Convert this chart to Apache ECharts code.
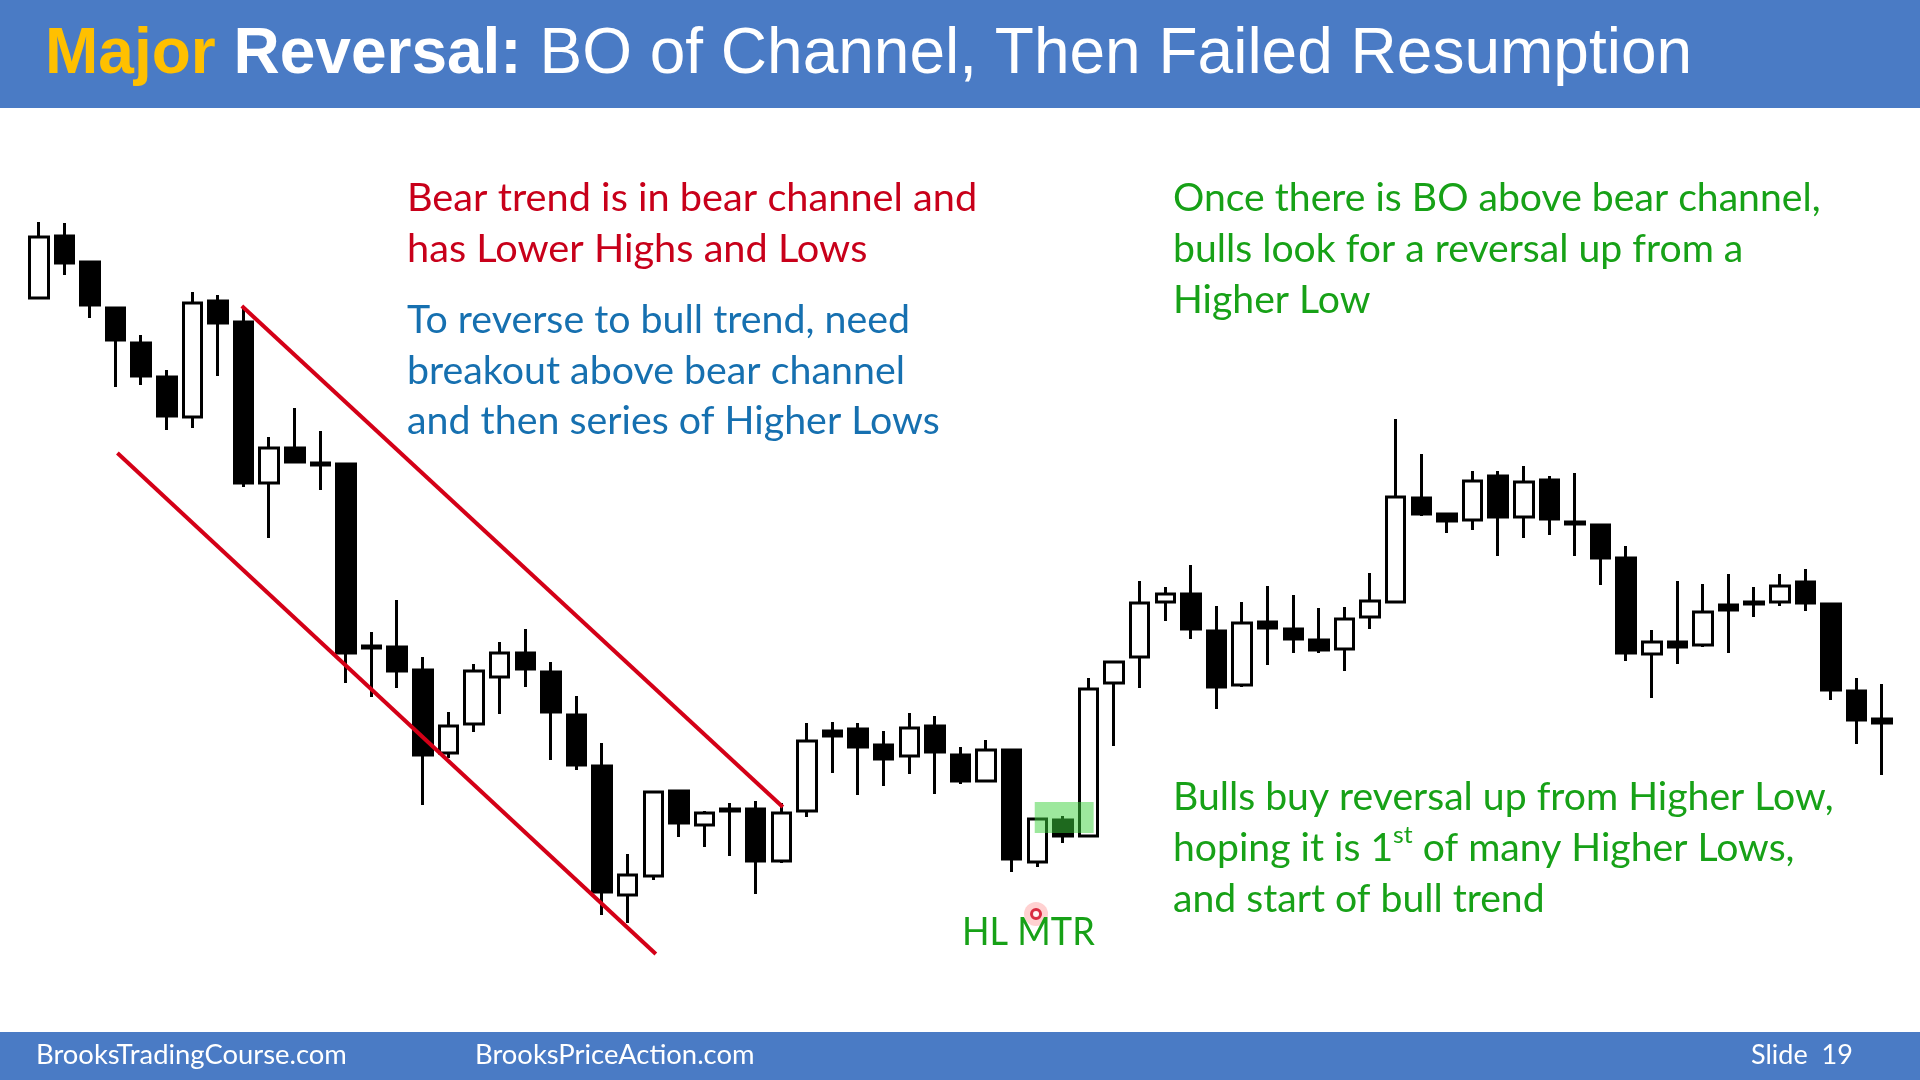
<!DOCTYPE html>
<html>
<head>
<meta charset="utf-8">
<script src="https://cdn.jsdelivr.net/npm/echarts@6/dist/echarts.min.js"></script>
<style>html,body{margin:0;padding:0;background:#fff;}#c{width:1920px;height:1080px;}</style>
</head>
<body>
<div id="c"></div>
<script>
// Candle values (price units; higher = up)
const opens  = [702,764,738,692,657,623,583,699,678,517,552,537,536,354,353,330,247,276,323,347,328,285,234,105,124,209,175,191,191,139,189,269,271,255,244,274,245,219,250,138,180,164,317,343,398,406,369,315,378,371,360,351,383,398,502,486,480,524,483,520,478,475,442,346,358,355,395,398,398,418,396,309,281];
const closes = [763,737,695,660,624,584,697,677,517,552,538,535,347,352,329,245,274,329,347,331,288,235,108,125,208,177,187,189,139,187,259,264,253,241,272,248,219,250,141,181,164,311,338,397,406,371,313,377,372,361,350,381,399,503,486,479,519,483,518,481,476,442,347,358,353,388,390,396,414,397,310,280,277];
const lows   = [702,725,682,613,615,570,572,624,513,462,538,510,317,303,312,195,242,268,286,313,240,230,85,77,120,163,153,144,106,137,183,227,205,214,226,206,216,219,128,133,157,164,254,312,379,361,291,313,335,347,347,329,371,398,484,467,470,444,462,465,444,415,339,302,336,353,347,383,394,389,300,256,225];
const highs  = [778,777,738,692,665,630,708,705,693,563,592,569,536,368,400,343,288,336,358,371,338,304,257,146,208,210,189,197,199,197,277,278,277,269,287,284,253,260,250,182,184,322,338,419,413,435,394,398,414,405,392,393,427,581,546,486,529,529,534,524,527,475,454,370,419,416,426,413,426,431,396,322,316];
const bars = opens.map((_, i) => String(i + 1));

// Channel lines: [barIndex, price] endpoints
const upperLine = [[7.93, 694], [29.06, 193]];
const lowerLine = [[3.07, 547], [24.10, 46]];
// Highlight box: [x1, x2, yLow, yHigh]
const greenBox = [38.9, 41.2, 167, 198];
// Pointer dot
const pointer = [[38.95, 86]];

const ohlc = opens.map((o, i) => [o, closes[i], lows[i], highs[i]]);

const chart = echarts.init(document.getElementById('c'), null, {renderer: 'canvas'});

const BODY = 'Lato';
function txt(x, y, s, color, size, sx, extra) {
  const st = Object.assign({text: s, fill: color, font: size + 'px ' + BODY, verticalAlign: 'middle', align: 'left'}, extra || {});
  return {type: 'text', x: x, y: y, scaleX: sx, z: 100, style: st};
}
const RED = '#c8001a', BLUE = '#1670b0', GREEN = '#17a117';
const FS = 38, SX = 1.035;

chart.setOption({
  animation: false,
  backgroundColor: '#fff',
  grid: {left: 26, width: 1869, top: 200, height: 800, show: false},
  xAxis: [
    {type: 'category', data: bars, show: false, boundaryGap: true},
    {type: 'value', min: -0.5, max: 72.5, show: false}
  ],
  yAxis: {type: 'value', min: 0, max: 800, show: false},
  series: [
    {
      type: 'candlestick', data: ohlc, barWidth: 19, z: 2,
      itemStyle: {color: '#ffffff', color0: '#000000', borderColor: '#000000', borderColor0: '#000000', borderWidth: 3}
    },
    {type: 'line', xAxisIndex: 1, data: upperLine, symbol: 'none', z: 5, lineStyle: {color: '#d40017', width: 4}},
    {type: 'line', xAxisIndex: 1, data: lowerLine, symbol: 'none', z: 5, lineStyle: {color: '#d40017', width: 4}},
    {
      type: 'custom', xAxisIndex: 1, z: 10, data: [greenBox],
      renderItem: function (params, api) {
        const p1 = api.coord([api.value(0), api.value(3)]);
        const p2 = api.coord([api.value(1), api.value(2)]);
        return {type: 'rect', shape: {x: p1[0], y: p1[1], width: p2[0] - p1[0], height: p2[1] - p1[1]},
                style: {fill: 'rgba(60,210,60,0.5)'}};
      }
    },
    {type: 'scatter', xAxisIndex: 1, data: pointer, symbolSize: 24, z: 20, itemStyle: {color: 'rgba(255,90,90,0.35)'}},
    {type: 'scatter', xAxisIndex: 1, data: pointer, symbolSize: 9, z: 21, itemStyle: {color: '#ffffff', borderColor: '#d0001a', borderWidth: 3}}
  ],
  graphic: [
    {type: 'rect', z: 50, shape: {x: 0, y: 0, width: 1920, height: 108}, style: {fill: '#4a7bc5'}},
    {type: 'rect', z: 50, shape: {x: 0, y: 1032, width: 1920, height: 48}, style: {fill: '#4a7bc5'}},
    {type: 'text', x: 45, y: 55, z: 100, style: {
      text: '{a|Major} {b|Reversal:} {c|BO of Channel, Then Failed Resumption}',
      font: '64px "Liberation Sans"', fill: '#ffffff', verticalAlign: 'middle',
      rich: {
        a: {fill: '#ffc000', font: 'bold 64px "Liberation Sans"'},
        b: {fill: '#ffffff', font: 'bold 64px "Liberation Sans"'},
        c: {fill: '#ffffff', font: '64px "Liberation Sans"'}
      }}},
    txt(407, 199, 'Bear trend is in bear channel and', RED, FS, 1.045),
    txt(407, 250, 'has Lower Highs and Lows', RED, FS, 1.045),
    txt(407, 321, 'To reverse to bull trend, need', BLUE, FS, SX),
    txt(407, 372, 'breakout above bear channel', BLUE, FS, SX),
    txt(407, 422, 'and then series of Higher Lows', BLUE, FS, SX),
    txt(1173, 199, 'Once there is BO above bear channel,', GREEN, FS, 1.03),
    txt(1173, 250, 'bulls look for a reversal up from a', GREEN, FS, 1.03),
    txt(1173, 301, 'Higher Low', GREEN, FS, 1.03),
    txt(1173, 798, 'Bulls buy reversal up from Higher Low,', GREEN, FS, 1.03),
    txt(1173, 849, '{n|hoping it is 1}{s|st}{n| of many Higher Lows,}', GREEN, FS, 1.03, {
      rich: {n: {fill: GREEN, font: FS + 'px ' + BODY, lineHeight: 51}, s: {fill: GREEN, font: '24px ' + BODY, verticalAlign: 'top', lineHeight: 37}}
    }),
    txt(1173, 900, 'and start of bull trend', GREEN, FS, 1.03),
    txt(962, 933, 'HL MTR', GREEN, FS, 0.95),
    txt(36, 1055, 'BrooksTradingCourse.com', '#ffffff', 27, 1.015),
    txt(475, 1055, 'BrooksPriceAction.com', '#ffffff', 27, 1.015),
    txt(1751, 1055, 'Slide  19', '#ffffff', 27, 1.0)
  ]
});
</script>
</body>
</html>
